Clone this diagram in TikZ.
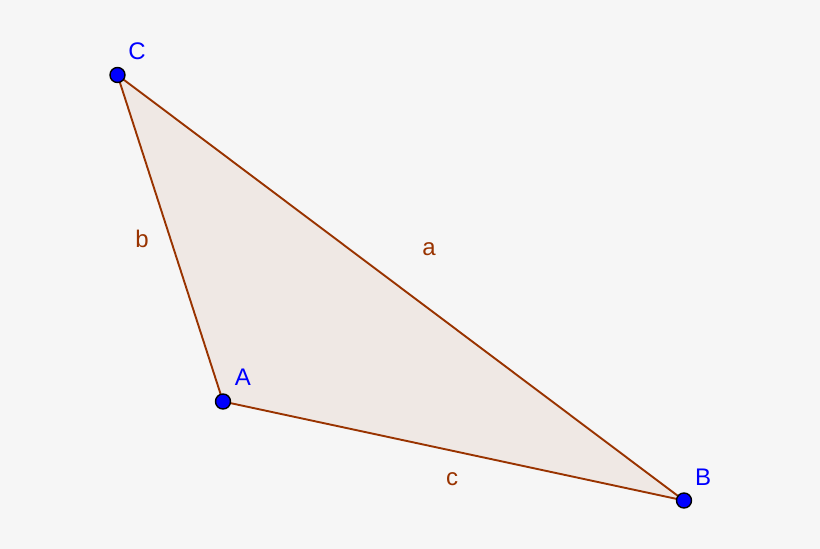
\documentclass[tikz,border=0pt]{standalone}
\usepackage{fontspec}
\setmainfont{Liberation Sans}
\definecolor{sidebrown}{RGB}{153,51,0}
\definecolor{bgray}{RGB}{246,246,246}
\tikzset{
  vertex/.style={circle,draw=black,fill=blue,line width=1.4pt,inner sep=0pt,minimum size=15pt},
  vlabel/.style={text=blue,font=\fontsize{24}{28}\selectfont},
  slabel/.style={text=sidebrown,font=\fontsize{24}{28}\selectfont}
}
\begin{document}
\begin{tikzpicture}
        [x=1pt,y=-1pt]
        \fill[bgray] (0,0) rectangle (820,549);
        \useasboundingbox (0,0) rectangle (820,549);

        \coordinate (A) at (223,401.5);
        \coordinate (B) at (684,500.5);
        \coordinate (C) at (117.5,75);

        % triangle
        \draw[sidebrown,line width=1.9pt,fill=sidebrown,fill opacity=0.07,line join=round] (A) -- (B) -- (C) -- cycle;

        % side names
        \node[slabel] (a) at (429,249) {a};
        \node[slabel] (b) at (142,239) {b};
        \node[slabel] (c) at (452,479) {c};

        % points
        \node[vertex] (pA) at (A) {};
        \node[vertex] (pB) at (B) {};
        \node[vertex] (pC) at (C) {};
        \node[vlabel] (lA) at (243,377) {A};
        \node[vlabel] (lB) at (703,477) {B};
        \node[vlabel] (lC) at (137,51) {C};
      \end{tikzpicture}
\end{document}
